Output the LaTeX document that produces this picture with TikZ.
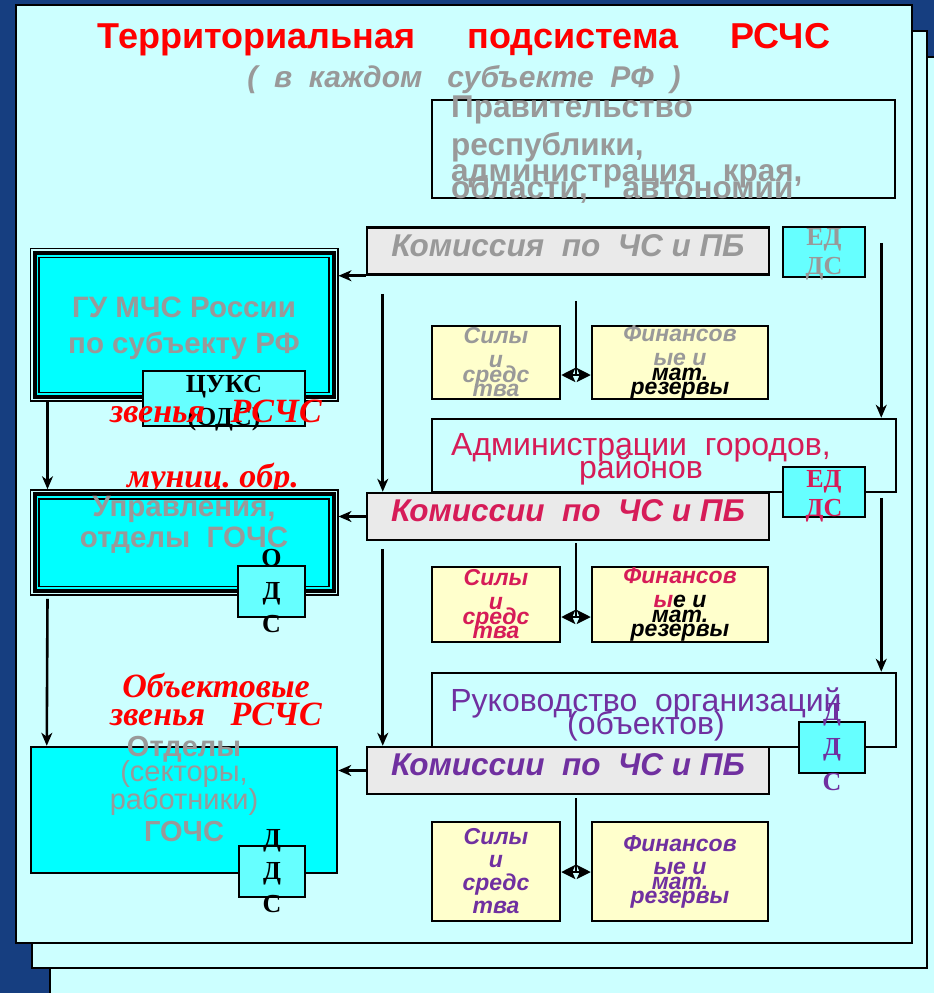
\documentclass[tikz,border=0pt]{standalone}
\usepackage{fontspec}
\setmainfont{Liberation Sans}
\newfontfamily\tnr{Liberation Serif}
\usepackage{xcolor}
\usepackage{tikz}
\usetikzlibrary{arrows.meta,positioning}
\definecolor{navy}{RGB}{22,62,128}
\definecolor{lightcyan}{RGB}{204,255,255}
\definecolor{aqua}{RGB}{0,255,255}
\definecolor{eddscyan}{RGB}{102,255,255}
\definecolor{txtgray}{RGB}{153,153,153}
\definecolor{komgray}{RGB}{234,234,234}
\definecolor{resyellow}{RGB}{255,255,204}
\definecolor{crimson}{RGB}{214,28,88}
\definecolor{orgviolet}{RGB}{112,48,160}
\newcommand{\fsz}[2]{\fontsize{#1}{#2}\selectfont}
\newcommand{\hqframe}[1]{%
  \draw[line width=4pt,fill=aqua] ([shift={(5,5)}]#1.north west) rectangle ([shift={(-5,-5)}]#1.south east);
  \draw[line width=1.5pt] ([shift={(9.5,9.5)}]#1.north west) rectangle ([shift={(-9.5,-9.5)}]#1.south east);}
\lineskiplimit=-100pt

\begin{document}
\begin{tikzpicture}[x=1pt,y=-1pt,>={Stealth[length=13pt,width=11pt,inset=4pt]},
  frame/.style={draw,line width=2.5pt,fill=lightcyan},
  conn/.style={->,line width=2.6pt},
  box/.style={draw,line width=2.5pt,inner sep=0pt},
  kombox/.style={box,fill=komgray,minimum width=402pt,minimum height=47pt,
                 font=\fsz{31.5}{34}\bfseries\itshape,text height=22.5pt,text depth=12.5pt},
  unit/.style={box,minimum width=464pt,minimum height=73pt},
  edds/.style={box,fill=eddscyan,minimum width=82pt,minimum height=50pt},
  res/.style={box,fill=resyellow,minimum height=73pt},
  hq/.style={draw,line width=1.5pt,fill=lightcyan,minimum width=307.5pt,inner sep=0pt},
  serifstack/.style={align=center,inner sep=0pt,font=\tnr\bfseries\fsz{26}{#1}},
  serifstack/.default=33,
  restext/.style={align=center,inner sep=0pt,font=\bfseries\itshape\fsz{23}{#1}},
  restext/.default=14.5,
  unittext/.style={align=center,inner sep=0pt,font=\fsz{32}{23}},
  hqtext/.style={align=center,inner sep=0pt,text=txtgray,font=\bfseries\fsz{29.5}{#1}},
  redtext/.style={align=center,inner sep=0pt,text=red,font=\tnr\bfseries\itshape\fsz{34}{28}},
  resarrow/.style={{Stealth[length=14pt,width=14pt,inset=3pt]}-{Stealth[length=14pt,width=14pt,inset=3pt]},line width=2.2pt}]
\useasboundingbox (0,0) rectangle (934,993);
\clip (0,0) rectangle (934,993);
\fill[navy] (0,0) rectangle (934,993);
\draw[frame,line width=1.5pt] (50,57) rectangle (960,1020);
\draw[frame] (32,31) rectangle (927,968);
\draw[frame] (16,5) rectangle (912,943);

\node[anchor=base,text=red,font=\bfseries\fsz{36}{40}] (title) at (464,48)
  {Территориальная\hspace{1.45em}подсистема\hspace{1.45em}РСЧС};
\node[anchor=base,text=txtgray,font=\bfseries\itshape\fsz{30}{34}] (sub) at (464,87)
  {(~~в~~каждом~~~субъекте~~РФ~~)};

\node[box,minimum width=463pt,minimum height=98pt] (gov) at (663.5,149) {};
\node[anchor=north west,inner sep=0pt,align=left,text=txtgray,font=\bfseries\fsz{31.5}{26}] (govtext) at (451,96)
  {Правительство\\[12pt]республики,\\администрация~~~края,\\[-9pt]области,~~~~автономии};

\node[unit] (adm) at (664,455.5) {};
\node[unittext,text=crimson] (admtext) at (641,459) {Администрации~~городов,\\районов};
\node[unit,minimum height=74pt] (ruk) at (664,710) {};
\node[unittext,text=orgviolet] (ruktext) at (646,714) {Руководство~~организаций\\(объектов)};

\node[kombox,text=txtgray] (kom1) at (568,251) {Комиссия~~по~~ЧС и ПБ};
\node[kombox,text=crimson] (kom2) at (568,516.5) {Комиссии~~по~~ЧС и ПБ};
\node[kombox,text=orgviolet] (kom3) at (568,770.5) {Комиссии~~по~~ЧС и ПБ};

\node[edds] (edds1) at (824,252) {};
\node[serifstack=29,text=txtgray] (edds1t) at ([shift={(0,2)}]edds1) {ЕД\\ДС};
\node[edds] (edds2) at (824,492) {};
\node[serifstack=29,text=crimson] (edds2t) at ([shift={(0,4)}]edds2) {ЕД\\ДС};
\node[edds,minimum width=66pt,minimum height=51pt] (dds3) at (832,747.5) {};
\node[serifstack=35,text=orgviolet] (dds3t) at (dds3) {Д\\Д\\С};

\node[res,minimum width=128pt] (sil1) at (496,362.5) {};
\node[res,minimum width=176pt,right=29.5pt of sil1] (fin1) {};
\node[restext,text=txtgray] (sil1t) at (sil1) {Силы\\[9.5pt]и\\средс\\тва};
\node[restext,text=txtgray] (fin1t) at (fin1)
  {Финансов\\[9.5pt]ые и\\\textcolor{black}{мат.}\\\textcolor{black}{резервы}};
\node[res,minimum width=128pt,minimum height=75pt] (sil2) at (496,604.5) {};
\node[res,minimum width=176pt,minimum height=75pt,right=29.5pt of sil2] (fin2) {};
\node[restext,text=crimson] (sil2t) at (sil2) {Силы\\[9.5pt]и\\средс\\тва};
\node[restext,text=crimson] (fin2t) at (fin2)
  {Финансов\\[9.5pt]ы\textcolor{black}{е и}\\\textcolor{black}{мат.}\\\textcolor{black}{резервы}};
\node[res,minimum width=128pt,minimum height=99pt] (sil3) at (496,871.5) {};
\node[res,minimum width=176pt,minimum height=99pt,right=29.5pt of sil3] (fin3) {};
\node[restext=23,text=orgviolet] (sil3t) at (sil3) {Силы\\и\\средс\\тва};
\node[restext=23,text=orgviolet] (fin3t) at (fin3) {Финансов\\ые и\\[-8pt]мат.\\[-9pt]резервы};

\coordinate (j1) at (576,375);
\coordinate (j2) at (576,617);
\coordinate (j3) at (576,872);
\draw[line width=2.2pt] (j1 |- kom1.south) ++(0,25) -- (j1);
\draw[line width=2.2pt] (j2 |- kom2.south) ++(0,2) -- (j2);
\draw[line width=2.2pt] (j3 |- kom3.south) ++(0,3) -- (j3);
\draw[resarrow] (sil1.east |- j1) -- (fin1.west |- j1);
\draw[resarrow] (sil2.east |- j2) -- (fin2.west |- j2);
\draw[resarrow] (sil3.east |- j3) -- (fin3.west |- j3);

\node[hq,minimum height=152.5pt] (gu) at (184,324.75) {};
\hqframe{gu}
\node[hqtext=36] (gutext) at (184,328) {ГУ МЧС России\\по субъекту РФ};
\node[edds,minimum width=162pt,minimum height=55pt] (tsuks) at (224,398.5) {};
\node[serifstack,text=black] (tsukst) at (224,402.7) {ЦУКС\\(ОДС)};
\node[redtext,anchor=base] (zv1) at (216,422) {звенья~~~РСЧС};
\node[redtext,anchor=base] (mun) at (213,487) {муниц.~обр.};

\node[hq,minimum height=105pt] (upr) at (184,542.5) {};
\hqframe{upr}
\node[hqtext=31] (uprtext) at (184,524.5) {Управления,\\отделы~~ГОЧС};
\node[edds,minimum width=67pt,minimum height=51pt] (ods2) at (271.5,591.5) {};
\node[serifstack,text=black] (ods2t) at (ods2) {О\\Д\\С};

\node[redtext] (obj) at (216,699.5) {Объектовые\\звенья~~~РСЧС};
\node[box,fill=aqua,minimum width=306pt,minimum height=126pt] (otd) at (184,810) {};
\node[align=center,inner sep=0pt,text=txtgray,font=\fsz{29}{28}] (otdtext) at (184,789.5)
  {\textbf{Отделы}\\[-3pt](секторы,\\работники)\\[4pt]\textbf{ГОЧС}};
\node[edds,minimum width=66pt,minimum height=51pt] (dds4) at (272,871.5) {};
\node[serifstack,text=black] (dds4t) at (dds4) {Д\\Д\\С};

\draw[conn] (kom1.south west) -- (kom1.south west -| gu.east);
\draw[conn] (kom2.west) -- (kom2.west -| upr.east);
\draw[conn] (kom3.west) -- (kom3.west -| otd.east);
\draw[conn] ([xshift=18pt]gu.south west) -- ([xshift=18pt]upr.north west);
\draw[conn] ([xshift=18pt]upr.south west) ++(0,3) -- ([xshift=17pt]otd.north west);
\draw[conn] (kom1.south west) ++(17,18) -- ([xshift=17pt]kom2.north west);
\draw[conn] (kom2.south west) ++(17,8) -- ([xshift=17pt]kom3.north west);
\coordinate (r1) at ([shift={(15,17)}]edds1.north east);
\draw[conn] (r1) -- (r1 |- adm.north);
\coordinate (r2) at ([shift={(15,32)}]edds2.north east);
\draw[conn] (r2) -- (r2 |- ruk.north);
\end{tikzpicture}
\end{document}
